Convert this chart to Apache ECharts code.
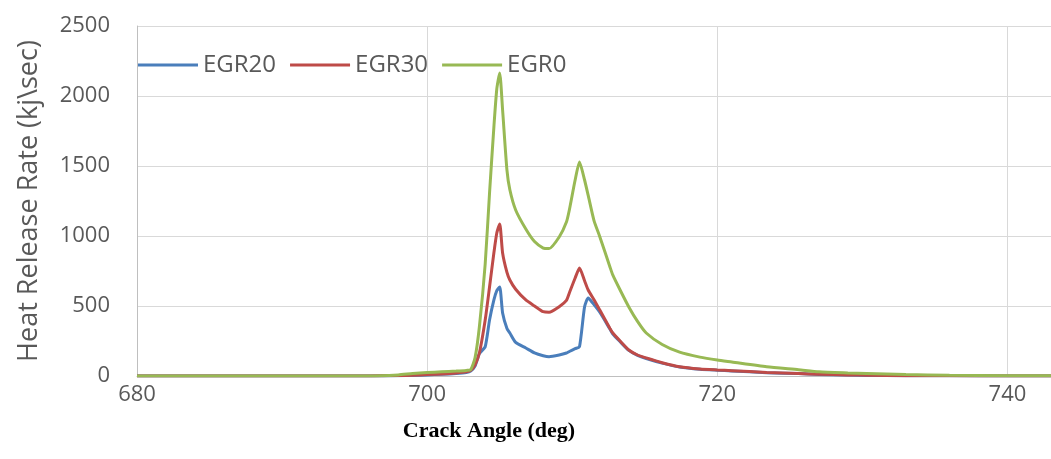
<!DOCTYPE html>
<html>
<head>
<meta charset="utf-8">
<script src="https://cdn.jsdelivr.net/npm/echarts@6/dist/echarts.min.js"></script>
<style>html,body{margin:0;padding:0;background:#fff}#c{width:1051px;height:459px}</style>
</head>
<body>
<div id="c"></div>
<script>
var angles = [680,690,696,698,699,700,701,702,702.7,703.0,703.3,703.6,704.0,704.3,704.6,704.8,705.0,705.2,705.5,705.7,706.1,706.8,707.4,708.0,708.4,709.1,709.6,709.8,710.2,710.5,710.85,711.1,711.5,711.9,712.6,712.8,713.3,713.9,714.5,715.1,716.2,717.4,718.8,720,721,723.4,725.6,727,729,730.3,733,736,740,743];
var egr0  = [0,0,0,8,18,25,30,35,40,45,130,352,800,1307,1780,2050,2164,1900,1470,1330,1186,1050,960,914,910,993,1100,1186,1400,1529,1400,1290,1110,995,779,720,614,493,390,307,225,170,135,114,100,66,45,30,22,18,10,5,2,1];
var egr30 = [0,0,0,3,6,10,15,22,30,40,80,164,400,636,880,1021,1086,879,740,686,620,543,500,459,455,495,540,593,700,771,680,614,545,471,340,307,250,186,150,129,95,66,50,43,38,25,18,12,8,5,2,1,0,0];
var egr20 = [0,0,0,2,4,8,12,18,25,35,70,160,209,400,543,610,636,450,340,307,240,200,165,145,138,150,164,175,195,209,495,557,510,455,335,300,245,183,148,125,92,64,48,41,36,24,17,11,7,4,2,1,0,0];
var xTicks = [680,700,720,740];
var yTicks = [0,500,1000,1500,2000,2500];

function pairs(v){ return angles.map(function(a,i){ return [a, v[i]]; }); }

var chart = echarts.init(document.getElementById('c'));
var lineCommon = {type:'line', showSymbol:false, smooth:0.2, lineStyle:{width:3}};
chart.setOption({
  animation:false,
  grid:{left:137, right:0, top:26, bottom:83},
  legend:{
    left:133, top:48, itemWidth:60, itemHeight:3, itemGap:14, icon:'rect',
    textStyle:{fontFamily:'Open Sans', fontSize:24, color:'#595959'},
    data:['EGR20','EGR30','EGR0']
  },
  xAxis:{
    type:'value', min:xTicks[0], max:743, interval:20,
    axisLine:{show:true, lineStyle:{color:'#bfbfbf', width:1}},
    axisTick:{show:false},
    splitLine:{show:true, lineStyle:{color:'#d9d9d9', width:1}},
    axisLabel:{margin:8, showMaxLabel:false, fontFamily:'Open Sans', fontSize:22, color:'#595959',
      formatter:function(v){ return xTicks.indexOf(v) >= 0 ? String(v) : ''; }}
  },
  yAxis:{
    type:'value', min:yTicks[0], max:yTicks[yTicks.length-1], interval:500,
    name:'Heat Release Rate (kj\\sec)', nameLocation:'middle', nameGap:94, nameRotate:90,
    nameTextStyle:{fontFamily:'Open Sans', fontSize:27, color:'#595959'},
    axisLine:{show:true, lineStyle:{color:'#bfbfbf', width:1}},
    axisTick:{show:false},
    splitLine:{show:true, lineStyle:{color:'#d9d9d9', width:1}},
    axisLabel:{margin:27, fontFamily:'Open Sans', fontSize:22, color:'#595959',
      formatter:function(v){ return String(v); }}
  },
  graphic:[{type:'text', x:489, y:420, style:{text:'Crack Angle (deg)', textAlign:'center', font:'bold 22px "Liberation Serif"', fill:'#000'}}],
  series:[
    Object.assign({}, lineCommon, {name:'EGR20', color:'#4a7ebb', data:pairs(egr20)}),
    Object.assign({}, lineCommon, {name:'EGR30', color:'#be4b48', data:pairs(egr30)}),
    Object.assign({}, lineCommon, {name:'EGR0',  color:'#98b954', data:pairs(egr0)})
  ]
});
</script>
</body>
</html>
